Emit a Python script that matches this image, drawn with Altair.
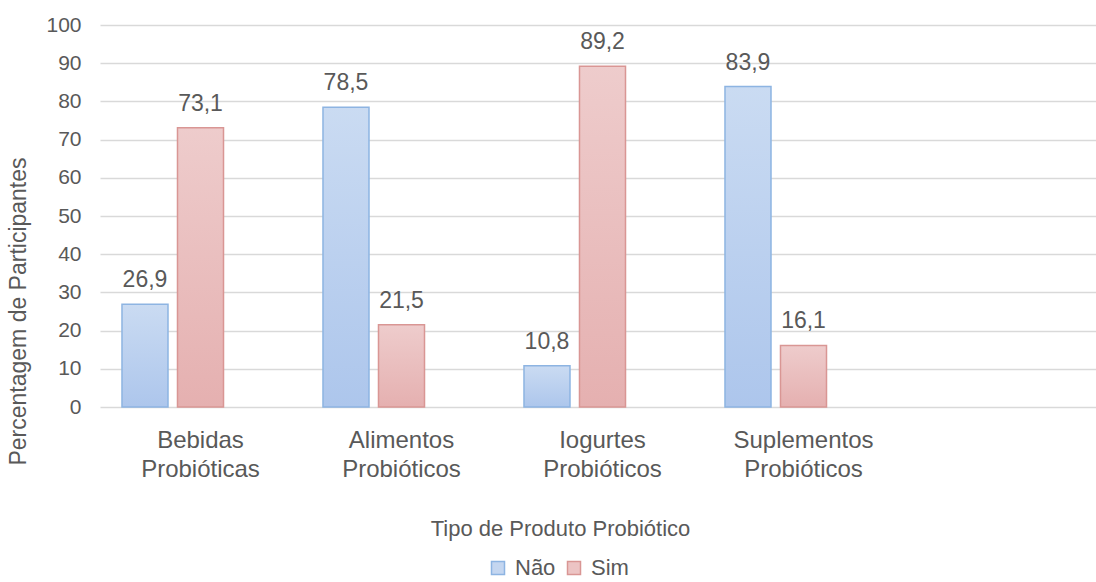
import altair as alt
import pandas as pd

categorias = ["Bebidas Probióticas", "Alimentos Probióticos", "Iogurtes Probióticos", "Suplementos Probióticos"]
nao = [26.9, 78.5, 10.8, 83.9]
sim = [73.1, 21.5, 89.2, 16.1]
series = ["Não", "Sim"]
y_ticks = [0, 10, 20, 30, 40, 50, 60, 70, 80, 90, 100]

rows = []
for c, n, s in zip(categorias, nao, sim):
    rows.append({"cat": c, "serie": "Não", "valor": n})
    rows.append({"cat": c, "serie": "Sim", "valor": s})
df = pd.DataFrame(rows)

FONT = "Liberation Sans, Arial, sans-serif"
GREY = "#595959"
cat_domain = categorias + [" "]
offset_domain = series + ["-"]

grad_nao = {"gradient": "linear", "x1": 0, "y1": 0, "x2": 0, "y2": 1,
            "stops": [{"offset": 0, "color": "#cadbf2"}, {"offset": 1, "color": "#adc6ec"}]}
grad_sim = {"gradient": "linear", "x1": 0, "y1": 0, "x2": 0, "y2": 1,
            "stops": [{"offset": 0, "color": "#eecccc"}, {"offset": 1, "color": "#e5b0b0"}]}

x_axis = alt.Axis(title="Tipo de Produto Probiótico", labelAngle=0, domain=False, ticks=False,
                  labelExpr="split(datum.label, ' ')", labelFontSize=24, labelColor=GREY,
                  labelFont=FONT, labelPadding=21, labelLineHeight=29, labelBaseline="top",
                  titleFont=FONT, titleFontSize=22, titleFontWeight="normal", titleColor=GREY,
                  titleX=460, titleY=128, titleAlign="center", titleBaseline="alphabetic",
                  titleAnchor="start")
y_axis = alt.Axis(values=y_ticks, tickCount=11, grid=True, gridColor="#d9d9d9", gridWidth=1.3,
                  domain=False, ticks=False, labelPadding=19, labelFontSize=21, labelOverlap=False,
                  labelColor=GREY, labelFont=FONT,
                  title="Percentagem de Participantes", titleFont=FONT, titleFontSize=23,
                  titleFontWeight="normal", titleColor=GREY, titleAngle=270,
                  titleX=-82, titleY=286, titleAlign="center", titleBaseline="middle",
                  titleAnchor="start")

x_enc = alt.X("cat:N",
              scale=alt.Scale(domain=cat_domain, range=[0, 1005], paddingInner=0, paddingOuter=0),
              sort=cat_domain, axis=x_axis)
xo_enc = alt.XOffset("serie:N", scale=alt.Scale(domain=offset_domain, paddingInner=0.171, paddingOuter=0.396))
y_enc = alt.Y("valor:Q", scale=alt.Scale(domain=[0, 100], nice=False), axis=y_axis)

bars = alt.Chart(df).mark_bar(strokeWidth=1.5).encode(
    x=x_enc, xOffset=xo_enc, y=y_enc,
    fill=alt.condition(alt.datum.serie == "Não", alt.value(grad_nao), alt.value(grad_sim)),
    stroke=alt.condition(alt.datum.serie == "Não", alt.value("#8db4e2"), alt.value("#d99694")),
)

labels = alt.Chart(df).transform_calculate(
    rotulo="replace(format(datum.valor, '.1f'), '.', ',')"
).mark_text(baseline="alphabetic", dy=-17, fontSize=23, color=GREY, font=FONT).encode(
    x=x_enc, xOffset=xo_enc, y=y_enc,
    text="rotulo:N",
)

leg = dict(orient="none", legendX=387, legendY=532, direction="horizontal", title=None,
           labelFontSize=22, labelColor=GREY, labelFont=FONT, symbolSize=169, symbolType="square",
           symbolStrokeWidth=1.5, columnPadding=7, labelOffset=6, symbolOpacity=1)

legend_layer = alt.Chart(df).mark_square(opacity=0, filled=True).encode(
    fill=alt.Fill("serie:N", scale=alt.Scale(domain=series, range=["#c4d6f0", "#ecc4c4"]), legend=alt.Legend(**leg)),
    stroke=alt.Stroke("serie:N", scale=alt.Scale(domain=series, range=["#8db4e2", "#d99694"]), legend=alt.Legend(**leg)),
)

chart = alt.layer(bars, labels, legend_layer).properties(
    width=996, height=382,
    autosize=alt.AutoSizeParams(type="none"),
    padding={"left": 100, "top": 25, "right": 0, "bottom": 175},
    background="white",
).configure_view(stroke=None)

chart.save("out.html", embed_options={"renderer": "svg", "actions": False})
